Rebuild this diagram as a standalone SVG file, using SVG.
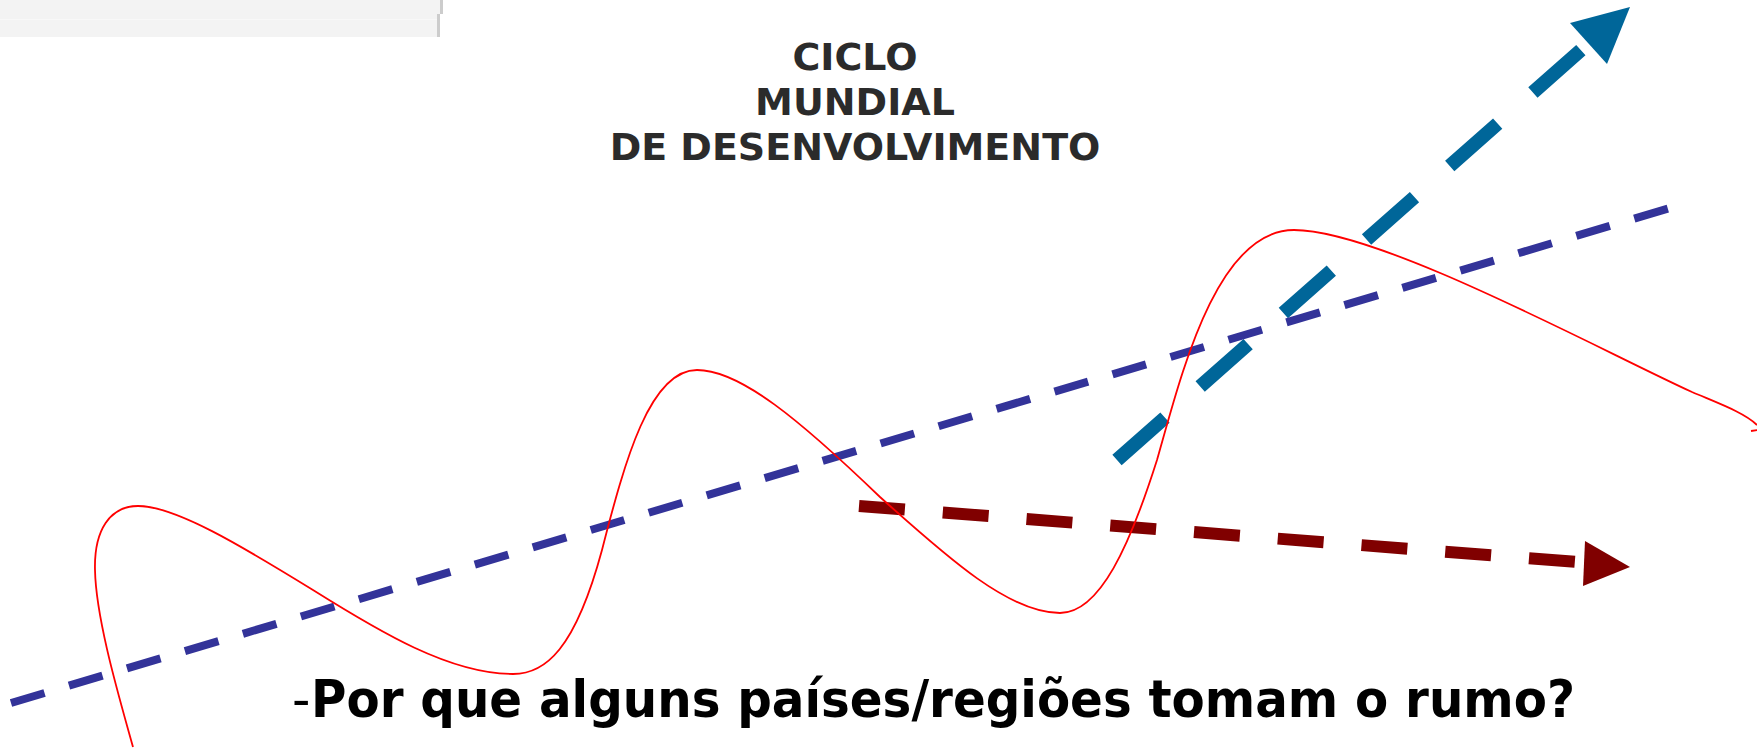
<svg xmlns="http://www.w3.org/2000/svg" width="1757" height="750" viewBox="0 0 1757 750">
<style>
.title{font-family:"DejaVu Sans",sans-serif;font-weight:bold;font-size:38px;fill:#2b2b2b;text-anchor:middle}
.q{font-family:"DejaVu Sans",sans-serif;font-size:51px;fill:#000}
.trend{fill:none;stroke:#333399;stroke-width:8;stroke-dasharray:35 25.5}
.up{fill:none;stroke:#006699;stroke-width:14;stroke-dasharray:64 47}
.flat{fill:none;stroke:#800000;stroke-width:12;stroke-dasharray:46 38}
.cycle{fill:none;stroke:#ff0000;stroke-width:1.8}
</style>
<rect width="1757" height="750" fill="#ffffff"/>
<g id="toolbar">
<rect x="0" y="0" width="440" height="19" fill="#f3f3f3"/>
<rect x="440" y="0" width="3" height="14" fill="#cccccc"/>
<rect x="0" y="19" width="437" height="18" fill="#f3f3f3"/>
<rect x="0" y="19" width="437" height="1" fill="#f8f8f8"/>
<rect x="437" y="14" width="3" height="23" fill="#cccccc"/>
</g>
<g id="title">
<text class="title" x="855" y="70">CICLO</text>
<text class="title" x="855" y="115">MUNDIAL</text>
<text class="title" x="855" y="160">DE DESENVOLVIMENTO</text>
</g>
<g id="connectors">
<g id="blue-arrow">
<line class="up" x1="1117" y1="460" x2="1581" y2="50"/>
<polygon points="1630,7 1570,23 1607,64" fill="#006699"/>
</g>
<g id="trend-line">
<line class="trend" x1="11" y1="703" x2="1670" y2="208"/>
</g>
<g id="darkred-arrow">
<line class="flat" x1="859" y1="506" x2="1578" y2="562"/>
<polygon points="1585,541 1583,586 1630,567" fill="#800000"/>
</g>
</g>
<g id="cycle-curve">
<path class="cycle" d="M133,747 C120,700 96,620 95,570 C94,530 110,506 138,506 C175,506 240,545 313,590 C380,632 450,674 513,674 C545,674 575,650 602,550 C625,460 650,370 697,370 C740,370 800,420 880,497 C950,560 1010,613 1060,613 C1100,613 1130,545 1157,460 C1180,380 1215,230 1294,230 C1380,230 1600,350 1692,392 C1720,404 1745,413 1757,425"/>
<path class="cycle" d="M1751,431 L1758,430"/>
</g>
<g id="question">
<text class="q" x="292" y="717">-</text>
<text class="q" x="311" y="717" font-weight="bold" textLength="1264" lengthAdjust="spacingAndGlyphs">Por que alguns países/regiões tomam o rumo?</text>
</g>
</svg>
